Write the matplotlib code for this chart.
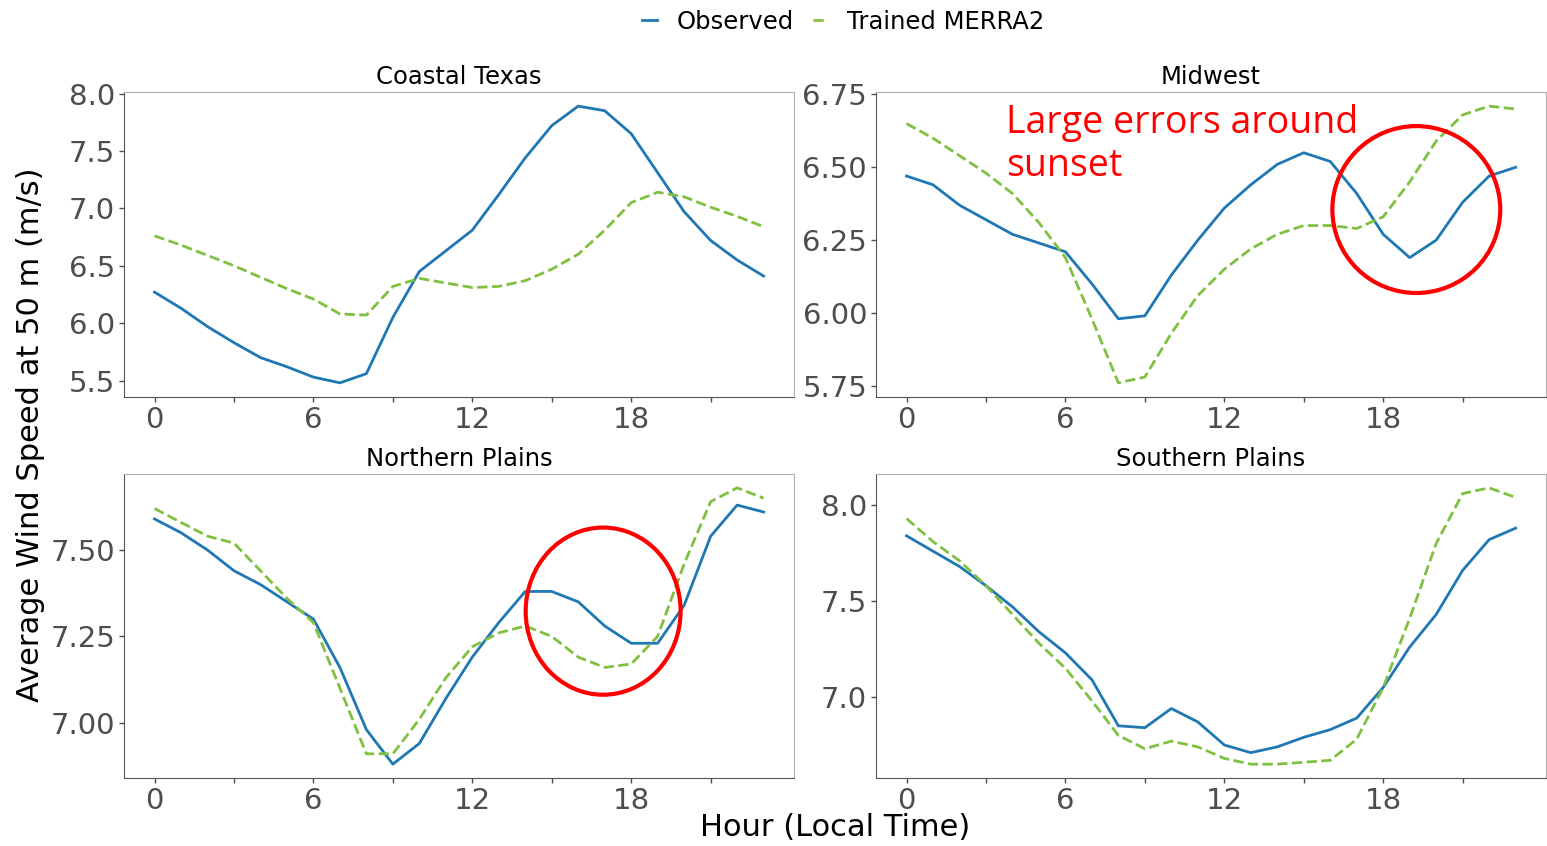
#!/usr/bin/env python3
"""
Diurnal wind speed at 50 m: observed vs trained MERRA2, four regions.
"""

import matplotlib
matplotlib.use('Agg')
import matplotlib.pyplot as plt
from matplotlib.patches import Ellipse
from matplotlib.ticker import MultipleLocator, FormatStrFormatter

DPI = 100
FIGSIZE = (15.47, 8.46)
FONTSIZE_TITLE = 17.5
FONTSIZE_TICK = 21
FONTSIZE_LABEL = 22
FONTSIZE_LEGEND = 17.5

COLOR_OBS = '#1f77b4'
COLOR_MERRA = '#80c040'
COLOR_NOTE = '#ff0000'
COLOR_TICK = '#4d4d4d'

HOURS = list(range(24))

REGIONS = ['Coastal Texas', 'Midwest', 'Northern Plains', 'Southern Plains']

# hourly means, m/s
obs_coastal_texas = [6.27, 6.13, 5.97, 5.83, 5.70, 5.62, 5.53, 5.48, 5.56, 6.05, 6.45, 6.63,
                     6.81, 7.12, 7.44, 7.72, 7.89, 7.85, 7.65, 7.31, 6.97, 6.72, 6.55, 6.41]
merra_coastal_texas = [6.76, 6.68, 6.59, 6.50, 6.40, 6.30, 6.21, 6.08, 6.07, 6.32, 6.39, 6.35,
                       6.31, 6.32, 6.37, 6.47, 6.60, 6.81, 7.05, 7.14, 7.10, 7.01, 6.93, 6.84]

obs_midwest = [6.47, 6.44, 6.37, 6.32, 6.27, 6.24, 6.21, 6.10, 5.98, 5.99, 6.13, 6.25,
               6.36, 6.44, 6.51, 6.55, 6.52, 6.41, 6.27, 6.19, 6.25, 6.38, 6.47, 6.50]
merra_midwest = [6.65, 6.60, 6.54, 6.48, 6.41, 6.31, 6.19, 5.98, 5.76, 5.78, 5.93, 6.06,
                 6.15, 6.22, 6.27, 6.30, 6.30, 6.29, 6.33, 6.45, 6.59, 6.68, 6.71, 6.70]

obs_northern_plains = [7.59, 7.55, 7.50, 7.44, 7.40, 7.35, 7.30, 7.16, 6.98, 6.88, 6.94, 7.07,
                       7.19, 7.29, 7.38, 7.38, 7.35, 7.28, 7.23, 7.23, 7.34, 7.54, 7.63, 7.61]
merra_northern_plains = [7.62, 7.58, 7.54, 7.52, 7.44, 7.36, 7.29, 7.10, 6.91, 6.91, 7.01, 7.13,
                         7.22, 7.26, 7.28, 7.25, 7.19, 7.16, 7.17, 7.25, 7.46, 7.64, 7.68, 7.65]

obs_southern_plains = [7.84, 7.76, 7.68, 7.58, 7.47, 7.34, 7.23, 7.09, 6.85, 6.84, 6.94, 6.87,
                       6.75, 6.71, 6.74, 6.79, 6.83, 6.89, 7.05, 7.26, 7.43, 7.66, 7.82, 7.88]
merra_southern_plains = [7.93, 7.81, 7.71, 7.58, 7.43, 7.28, 7.15, 6.98, 6.80, 6.73, 6.77, 6.74,
                         6.68, 6.65, 6.65, 6.66, 6.67, 6.78, 7.05, 7.41, 7.80, 8.06, 8.09, 8.04]

OBSERVED = [obs_coastal_texas, obs_midwest, obs_northern_plains, obs_southern_plains]
MERRA2 = [merra_coastal_texas, merra_midwest, merra_northern_plains, merra_southern_plains]

# y tick step / format per panel
Y_STEPS = [0.5, 0.25, 0.25, 0.5]
Y_FORMATS = ['%.1f', '%.2f', '%.2f', '%.1f']

# axes rectangles (figure fraction)
AX_RECTS = [
    [0.0802, 0.5311, 0.4331, 0.3598],
    [0.5663, 0.5311, 0.4331, 0.3598],
    [0.0802, 0.0804, 0.4331, 0.3593],
    [0.5663, 0.0804, 0.4331, 0.3593],
]


def style_axis(ax, step, fmt):
    ax.set_xticks(range(0, 24, 3))
    ax.set_xticklabels([str(h) if h % 6 == 0 else '' for h in range(0, 24, 3)])
    ax.yaxis.set_major_locator(MultipleLocator(step))
    ax.yaxis.set_major_formatter(FormatStrFormatter(fmt))
    ax.tick_params(labelsize=FONTSIZE_TICK, labelcolor=COLOR_TICK,
                   color=COLOR_TICK, length=3.5, width=1, pad=3)
    for side in ('top', 'right'):
        ax.spines[side].set_color('#b0b0b0')
    for side in ('left', 'bottom'):
        ax.spines[side].set_color('#555555')


def main():
    fig = plt.figure(figsize=FIGSIZE, dpi=DPI)
    axes = [fig.add_axes(r) for r in AX_RECTS]

    for ax, name, obs, merra, step, fmt in zip(axes, REGIONS, OBSERVED, MERRA2,
                                                Y_STEPS, Y_FORMATS):
        ax.plot(HOURS, obs, '-', color=COLOR_OBS, linewidth=2, label='Observed')
        ax.plot(HOURS, merra, '--', color=COLOR_MERRA, linewidth=2,
                label='Trained MERRA2')
        ax.set_title(name, fontsize=FONTSIZE_TITLE, pad=6)
        style_axis(ax, step, fmt)

    # sunset error highlights
    axes[1].add_patch(Ellipse((19.25, 6.355), 6.34, 0.573, fill=False,
                              edgecolor=COLOR_NOTE, linewidth=3, zorder=5))
    axes[2].add_patch(Ellipse((16.94, 7.323), 5.85, 0.484, fill=False,
                              edgecolor=COLOR_NOTE, linewidth=3, zorder=5))
    axes[1].text(0.194, 0.96, 'Large errors around\nsunset', transform=axes[1].transAxes,
                 ha='left', va='top', fontsize=27, color=COLOR_NOTE,
                 family='Open Sans', linespacing=1.15)

    fig.text(0.0194, 0.4858, 'Average Wind Speed at 50 m (m/s)', rotation=90,
             ha='center', va='center', fontsize=FONTSIZE_LABEL)
    fig.text(0.5398, 0.0213, 'Hour (Local Time)', ha='center', va='center',
             fontsize=FONTSIZE_LABEL)

    handles, labels = axes[0].get_legend_handles_labels()
    fig.legend(handles, labels, loc='center', bbox_to_anchor=(0.545, 0.974),
               ncol=2, frameon=False, fontsize=FONTSIZE_LEGEND,
               handlelength=0.6, handletextpad=0.8, columnspacing=0.8)

    fig.savefig('out.png', dpi=DPI)
    plt.close(fig)


if __name__ == "__main__":
    main()
